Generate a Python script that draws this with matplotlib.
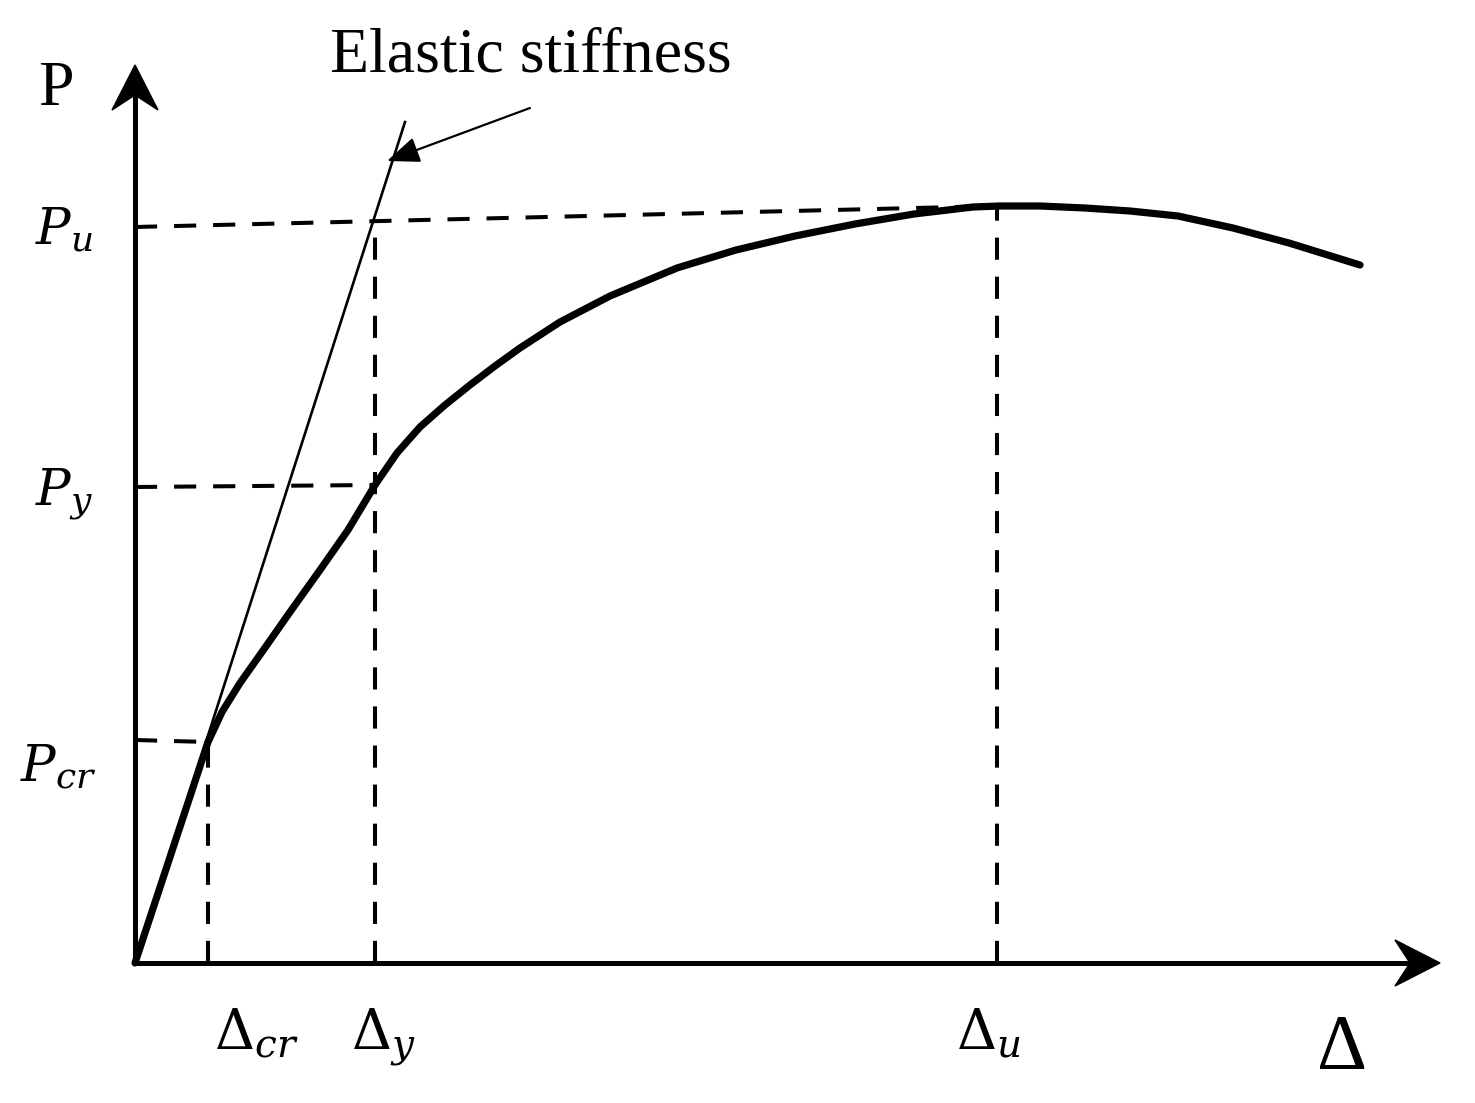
import numpy as np
import matplotlib.pyplot as plt
from matplotlib.patches import Polygon

plt.rcParams['mathtext.fontset'] = 'dejavuserif'

# load-displacement curve (schematic units, origin at the axes corner)
curve_x = [0, 73, 87, 105, 127, 155, 185, 213, 240, 262, 285, 310, 335, 360, 385,
           425, 475, 542, 601, 660, 720, 779, 838, 865, 905, 950, 995, 1043, 1098,
           1154, 1225]
curve_y = [0, 221, 251, 280, 311, 351, 393, 433, 478, 510, 536, 558, 578, 597, 615,
           641, 667, 695, 713, 727, 739, 749, 756, 757, 757, 755, 752, 747, 735,
           720, 698]

# characteristic points (cracking, yield, ultimate)
d_cr, p_cr = 73, 221
d_y, p_y = 240, 478
d_u, p_u = 862, 757
# guide lines are a little tilted in the original drawing
p_cr_left, p_y_left, p_u_left = 223, 476, 736
elastic_end = (270, 841)

x_max, y_max = 1305, 898
head_len, head_half, notch = 45, 23, 15

fig = plt.figure(figsize=(14.75, 11.03), dpi=100)
ax = fig.add_axes([0, 0, 1, 1])
ax.set_xlim(-135, 1340)
ax.set_ylim(-140, 963)
ax.axis('off')

# axes with arrowheads
ax.plot([0, x_max - 30], [0, 0], color='black', lw=3.6, solid_capstyle='butt')
ax.plot([0, 0], [0, y_max - 30], color='black', lw=3.6, solid_capstyle='butt')
ax.add_patch(Polygon([(x_max, 0), (x_max - head_len, head_half),
                      (x_max - head_len + notch, 0), (x_max - head_len, -head_half)],
                     closed=True, color='black'))
ax.add_patch(Polygon([(0, y_max), (-head_half, y_max - head_len),
                      (0, y_max - head_len + notch), (head_half, y_max - head_len)],
                     closed=True, color='black'))

# dashed guide lines
dash = dict(color='black', lw=2.9, dashes=(5.5, 4.2))
ax.plot([0, d_cr], [p_cr_left, p_cr], **dash)
ax.plot([0, d_y], [p_y_left, p_y], **dash)
ax.plot([0, d_u], [p_u_left, p_u], **dash)
p_u_at_dy = p_u_left + (p_u - p_u_left) * d_y / d_u
for d, p in [(d_cr, p_cr), (d_y, p_u_at_dy), (d_u, p_u)]:
    ax.plot([d, d], [0, p], **dash)

# elastic stiffness line
ax.plot([0, elastic_end[0]], [0, elastic_end[1]], color='black', lw=1.9)

# main curve
ax.plot(curve_x, curve_y, color='black', lw=5.2, solid_capstyle='round',
        solid_joinstyle='round')

# annotation
ax.annotate('', xy=(252, 802), xytext=(395, 855),
            arrowprops=dict(arrowstyle='-|>,head_length=1.0,head_width=0.4',
                            mutation_scale=20, color='black', lw=1.6,
                            shrinkA=0, shrinkB=0))
ax.text(195, 891, 'Elastic stiffness', family='Liberation Serif', fontsize=46,
        ha='left', va='baseline')

# labels
ax.text(-97, 858, 'P', family='Liberation Serif', fontsize=46, ha='left', va='baseline')
ax.text(-100, 718, r'$P_u$', fontsize=37, ha='left', va='baseline')
ax.text(-100, 458, r'$P_y$', fontsize=37, ha='left', va='baseline')
ax.text(-115, 181, r'$P_{cr}$', fontsize=37, ha='left', va='baseline')
ax.text(79, -87, r'$\Delta_{cr}$', fontsize=40, ha='left', va='baseline')
ax.text(216, -87, r'$\Delta_y$', fontsize=40, ha='left', va='baseline')
ax.text(821, -87, r'$\Delta_u$', fontsize=40, ha='left', va='baseline')
ax.text(1182, -105, 'Δ', family='Liberation Serif', fontsize=56, ha='left', va='baseline')

fig.savefig('out.png', dpi=100)
